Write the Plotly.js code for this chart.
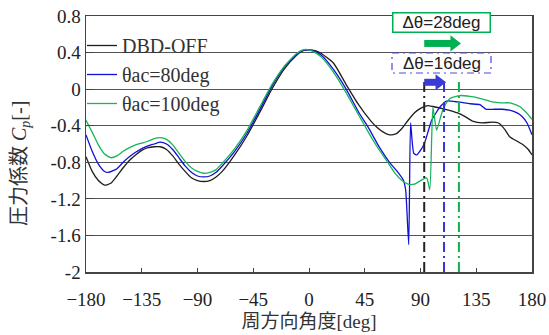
<!DOCTYPE html>
<html>
<head>
<meta charset="utf-8">
<script src="https://cdn.plot.ly/plotly-3.0.1.min.js"></script>
<style>html,body{margin:0;padding:0;background:#fff;}#chart{width:549px;height:335px;}</style>
</head>
<body>
<div id="chart"></div>
<script>
// ---- data ----
const seriesNames = ["DBD-OFF", "θac=80deg", "θac=100deg"];

const angleOff = [-180,-175,-170,-165,-160,-155,-150,-145,-140,-135,-130,-125,-120,-115,-110,-105,-100,-95,-90,-85,-80,-75,-70,-60,-50,-40,-30,-20,-10,-5,0,5,10,20,30,40,50,55,60,65,70,75,80,85,90,96,100,110,120,126,132,140,148,153,158,162,168,173,177,180];
const cpOff = [-0.74,-0.9,-1.0,-1.05,-1.03,-0.95,-0.86,-0.78,-0.72,-0.67,-0.64,-0.63,-0.63,-0.66,-0.73,-0.82,-0.9,-0.97,-1.0,-1.01,-1.0,-0.96,-0.9,-0.72,-0.51,-0.26,0.0,0.22,0.37,0.42,0.43,0.42,0.39,0.28,0.05,-0.17,-0.35,-0.42,-0.47,-0.5,-0.49,-0.43,-0.34,-0.26,-0.21,-0.18,-0.19,-0.22,-0.26,-0.3,-0.35,-0.37,-0.36,-0.37,-0.44,-0.52,-0.57,-0.61,-0.66,-0.72];

const angle80 = [-180,-175,-170,-165,-162,-155,-150,-145,-140,-135,-130,-125,-120,-115,-110,-105,-100,-95,-90,-85,-80,-75,-70,-60,-50,-40,-30,-20,-10,-5,0,5,10,20,30,40,47,50,57,65,70,76,78,80.5,82,84.5,87,90,93,96,99,103,106,111,120,130,138,143,150,156,162,168,172,176,180];
const cp80 = [-0.5,-0.68,-0.82,-0.9,-0.91,-0.87,-0.8,-0.74,-0.69,-0.65,-0.62,-0.6,-0.58,-0.6,-0.66,-0.75,-0.84,-0.91,-0.95,-0.96,-0.95,-0.91,-0.84,-0.68,-0.48,-0.23,0.03,0.24,0.38,0.42,0.43,0.41,0.37,0.21,0.0,-0.25,-0.4,-0.47,-0.64,-0.8,-0.88,-0.99,-1.1,-1.7,-0.37,-0.7,-0.72,-0.67,-0.6,-0.47,-0.34,-0.25,-0.19,-0.13,-0.14,-0.16,-0.17,-0.22,-0.22,-0.22,-0.23,-0.26,-0.3,-0.37,-0.5];

const angle100 = [-180,-175,-170,-165,-160,-155,-150,-145,-140,-135,-130,-125,-120,-115,-110,-105,-100,-95,-90,-85,-80,-75,-70,-60,-50,-40,-30,-20,-10,-5,0,5,10,20,30,40,45,50,55,60,65,70,75,80,85,90,95,97.5,100,103,107,110,114,122,130,138,148,155,162,170,175,180];
const cp100 = [-0.34,-0.47,-0.61,-0.71,-0.75,-0.73,-0.68,-0.64,-0.61,-0.59,-0.57,-0.54,-0.53,-0.55,-0.61,-0.7,-0.79,-0.86,-0.9,-0.92,-0.91,-0.88,-0.81,-0.65,-0.45,-0.2,0.05,0.25,0.39,0.43,0.43,0.4,0.35,0.18,-0.04,-0.28,-0.4,-0.52,-0.63,-0.73,-0.83,-0.93,-1.0,-1.04,-1.04,-1.0,-0.97,-1.1,-0.2,-0.45,-0.27,-0.17,-0.1,-0.07,-0.08,-0.1,-0.14,-0.15,-0.15,-0.19,-0.25,-0.33];

// separation angles (DBD-OFF, θac=80, θac=100) and shift labels
const sepAngles = [93, 109, 121];
const sepTop = 0.1;
const shiftLabels = ["Δθ=28deg", "Δθ=16deg"];
const arrowLevels = [0.5, 0.075];   // Cp level of green / blue arrow

const xTicks = [-180,-135,-90,-45,0,45,90,135,180];
const yTicks = [-2,-1.6,-1.2,-0.8,-0.4,0,0.4,0.8];
const yTickText = ["-2","-1.6","-1.2","-0.8","-0.4","0","0.4","0.8"];

// ---- styles ----
const colors = ["#1e1e1e", "#1010d8", "#18b45a"];
const sepColors = ["#222222", "#3535d2", "#10b04f"];
const serif = "Liberation Serif, Times New Roman, serif";
const sans = "Liberation Sans, Arial, sans-serif";

const traces = [
  {x: angleOff, y: cpOff, name: seriesNames[0]},
  {x: angle80, y: cp80, name: seriesNames[1]},
  {x: angle100, y: cp100, name: seriesNames[2]}
].map((t, i) => Object.assign(t, {
  type: "scatter", mode: "lines",
  line: {color: colors[i], width: 1.3, shape: "spline", smoothing: 0.5}
}));

// separation dash-dot lines
sepAngles.forEach((a, i) => {
  traces.push({
    x: [a, a], y: [-2, sepTop], type: "scatter", mode: "lines",
    showlegend: false, hoverinfo: "skip",
    line: {color: sepColors[i], width: 2, dash: "10px,4px,2px,4px"}
  });
});

// block arrows: green (OFF -> 100) and blue (OFF -> 80)
const arrowTargets = [sepAngles[2], sepAngles[1]];
const arrowColors = ["#00b050", "#3a3ad4"];
arrowTargets.forEach((tgt, i) => {
  const headDeg = 5;
  traces.push({
    x: [sepAngles[0], tgt - headDeg], y: [arrowLevels[i], arrowLevels[i]],
    type: "scatter", mode: "lines", showlegend: false, hoverinfo: "skip",
    line: {color: arrowColors[i], width: 7}
  });
  traces.push({
    x: [tgt - headDeg + 1], y: [arrowLevels[i]],
    type: "scatter", mode: "markers", showlegend: false, hoverinfo: "skip",
    marker: {symbol: "triangle-right", size: 14, color: arrowColors[i], line: {width: 0}}
  });
});

// paper helpers (plot area: l=86, r=17, t=16, b=63 in a 549x335 page)
const L = 86, T = 16, W = 549 - 86 - 17, H = 335 - 16 - 63;
const px = v => (v - L) / W;
const py = v => 1 - (v - T) / H;

const layout = {
  width: 549, height: 335,
  margin: {l: L, r: 17, t: T, b: 63},
  paper_bgcolor: "#ffffff", plot_bgcolor: "#ffffff",
  showlegend: true,
  legend: {
    x: px(82), y: py(26), xanchor: "left", yanchor: "top",
    bgcolor: "rgba(0,0,0,0)", borderwidth: 0,
    font: {family: serif, size: 20, color: "#333"},
    itemwidth: 30, tracegroupgap: 0
  },
  xaxis: {
    range: [-180, 180], tickmode: "array", tickvals: xTicks,
    ticks: "inside", ticklen: 4, tickcolor: "#444",
    showline: true, mirror: true, linecolor: "#444", linewidth: 1.5,
    showgrid: false, zeroline: false, ticklabelstandoff: 10,
    tickfont: {family: serif, size: 19, color: "#222"},
    title: {text: "周方向角度[deg]", font: {family: "Liberation Serif, Noto Sans CJK JP", size: 19, color: "#333"}, standoff: 5}
  },
  yaxis: {
    range: [-2, 0.8], tickmode: "array", tickvals: yTicks, ticktext: yTickText,
    ticks: "inside", ticklen: 8, tickcolor: "#444",
    showline: true, mirror: true, linecolor: "#444", linewidth: 1.5,
    showgrid: true, gridcolor: "#555", gridwidth: 1, zeroline: false,
    tickfont: {family: serif, size: 19, color: "#222"}
  },
  shapes: [
    // white backing of the legend (hides gridlines behind it)
    {type: "rect", xref: "paper", yref: "paper", layer: "below",
     x0: px(96), x1: px(234), y0: py(30), y1: py(110),
     fillcolor: "#ffffff", line: {width: 0}},
    // dash-dot frame of the Δθ=16deg label
    {type: "rect", xref: "paper", yref: "paper", layer: "above",
     x0: px(392), x1: px(491), y0: py(53), y1: py(73),
     fillcolor: "#ffffff", line: {color: "#4a4ae0", width: 1.2, dash: "7px,4px,2px,4px"}}
  ],
  annotations: [
    {xref: "paper", yref: "paper", x: px(441.5), y: py(22), xanchor: "center", yanchor: "middle",
     text: shiftLabels[0],
     showarrow: false, font: {family: sans, size: 17, color: "#222"},
     bgcolor: "#ffffff", bordercolor: "#00b050", borderwidth: 1.5, borderpad: 0,
     width: 96, height: 18},
    {xref: "paper", yref: "paper", x: px(441.5), y: py(63), xanchor: "center", yanchor: "middle",
     text: shiftLabels[1],
     showarrow: false, font: {family: sans, size: 17, color: "#222"}},
    {xref: "paper", yref: "paper", x: px(20), y: py(164), xanchor: "center", yanchor: "middle",
     text: "圧力係数 <i>C<sub>p</sub></i>[-]",
     textangle: -90, showarrow: false,
     font: {family: "Liberation Serif, Noto Sans CJK JP", size: 20, color: "#333"}}
  ]
};

Plotly.newPlot("chart", traces, layout, {staticPlot: true, displayModeBar: false});
</script>
</body>
</html>
